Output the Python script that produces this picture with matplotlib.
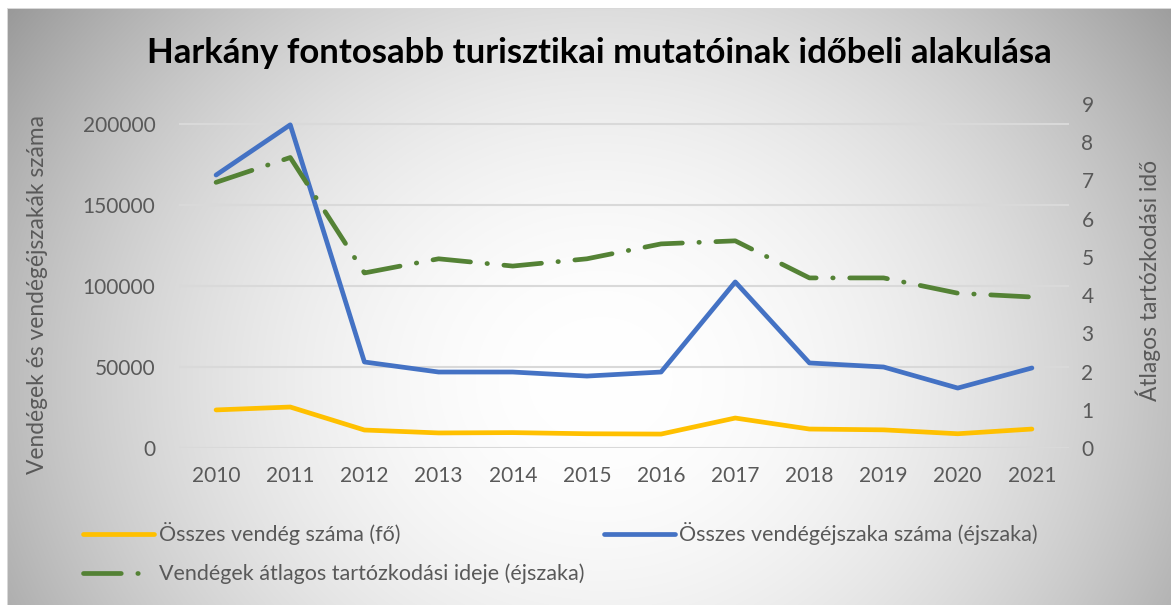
import numpy as np
import matplotlib
matplotlib.use('Agg')
import matplotlib.pyplot as plt

plt.rcParams['font.family'] = ['Lato', 'DejaVu Sans']

years = ['2010', '2011', '2012', '2013', '2014', '2015',
         '2016', '2017', '2018', '2019', '2020', '2021']
vendeg = [23500, 25300, 11100, 9300, 9500, 8800,
          8600, 18500, 11700, 11200, 8800, 11700]
vendegejszaka = [168500, 199500, 53100, 46900, 46900, 44400,
                 46900, 102500, 52500, 50000, 37000, 49400]
atlag = [6.95, 7.6, 4.58, 4.95, 4.76, 4.95,
         5.34, 5.42, 4.45, 4.45, 4.05, 3.95]

left_ticks = [0, 50000, 100000, 150000, 200000]
right_ticks = list(range(10))

W, H = 1171, 605
fig = plt.figure(figsize=(W / 100, H / 100), dpi=100)
fig.patch.set_facecolor('white')

# radial grey background
bg = fig.add_axes([0, 0, 1, 1], zorder=-10)
yy, xx = np.mgrid[0:H, 0:W]
g = 1 - 0.254 * ((xx - 600) / 580.0) ** 2 - 9.76e-7 * (yy - 380) ** 2
g = np.clip(g, 0.6, 1.0)
img = np.dstack([g, g, g])
img[:8, :, :] = 1.0
img[:, :7, :] = 1.0
img[8, 7:, :] = 0.85
img[8:, 7, :] = 0.85
bg.imshow(img, extent=[0, W, H, 0], aspect='auto', interpolation='bilinear')
bg.set_xlim(0, W)
bg.set_ylim(H, 0)
bg.axis('off')

ax = fig.add_axes([179 / W, 1 - 448 / H, (1069 - 179) / W, (448 - 104) / H])
ax.patch.set_alpha(0)
ax2 = ax.twinx()
ax2.patch.set_alpha(0)

x = np.arange(len(years))
yellow = '#FFC000'
blue = '#4472C4'
green = '#548235'
grey_txt = '#595959'

l1, = ax.plot(x, vendeg, color=yellow, lw=3.4, solid_joinstyle='round',
              solid_capstyle='round', label='Összes vendég száma (fő)')
l2, = ax.plot(x, vendegejszaka, color=blue, lw=3.4, solid_joinstyle='round',
              solid_capstyle='round', label='Összes vendégéjszaka száma (éjszaka)')
l3, = ax2.plot(x, atlag, color=green, lw=3.4, dash_capstyle='round',
               dash_joinstyle='round',
               label='Vendégek átlagos tartózkodási ideje (éjszaka)')
l3.set_dashes([8, 3.5, 0.1, 3.5])

ax.set_xlim(-0.5, len(years) - 0.5)
ax.set_ylim(0, 200000 * 344 / 324)
ax2.set_ylim(0, 9)
ax.set_yticks(left_ticks)
ax.set_yticklabels([str(v) for v in left_ticks])
ax2.set_yticks(right_ticks)
ax.set_xticks(x)
ax.set_xticklabels(years)
ax.grid(axis='y', color='#d9d9d9', lw=1.5)
ax.set_axisbelow(True)

for a in (ax, ax2):
    for s in a.spines.values():
        s.set_visible(False)
ax.tick_params(axis='both', length=0, labelsize=15, labelcolor=grey_txt)
ax.tick_params(axis='y', pad=17)
ax.tick_params(axis='x', pad=13)
ax2.tick_params(axis='y', length=0, labelsize=15, labelcolor=grey_txt, pad=9)

fig.text(0.512, 1 - 53 / H, 'Harkány fontosabb turisztikai mutatóinak időbeli alakulása',
         ha='center', va='center', fontsize=25, fontweight='bold', color='black')
fig.text(38 / W, 1 - 295 / H, 'Vendégek és vendégéjszakák száma', rotation=90,
         ha='center', va='center', fontsize=16.4, color=grey_txt)
fig.text(1148 / W, 1 - 280 / H, 'Átlagos tartózkodási idő', rotation=90,
         ha='center', va='center', fontsize=16.4, color=grey_txt)

leg = fig.legend([l1, l3, l2], [l1.get_label(), l3.get_label(), l2.get_label()],
                 ncol=2, loc='upper left', bbox_to_anchor=(64 / W, 1 - 503 / H),
                 frameon=False, fontsize=15.5, handlelength=3.3, handletextpad=0.2,
                 columnspacing=0.9, labelspacing=0.85)
for t in leg.get_texts():
    t.set_color(grey_txt)

fig.savefig('out.png', dpi=100)
